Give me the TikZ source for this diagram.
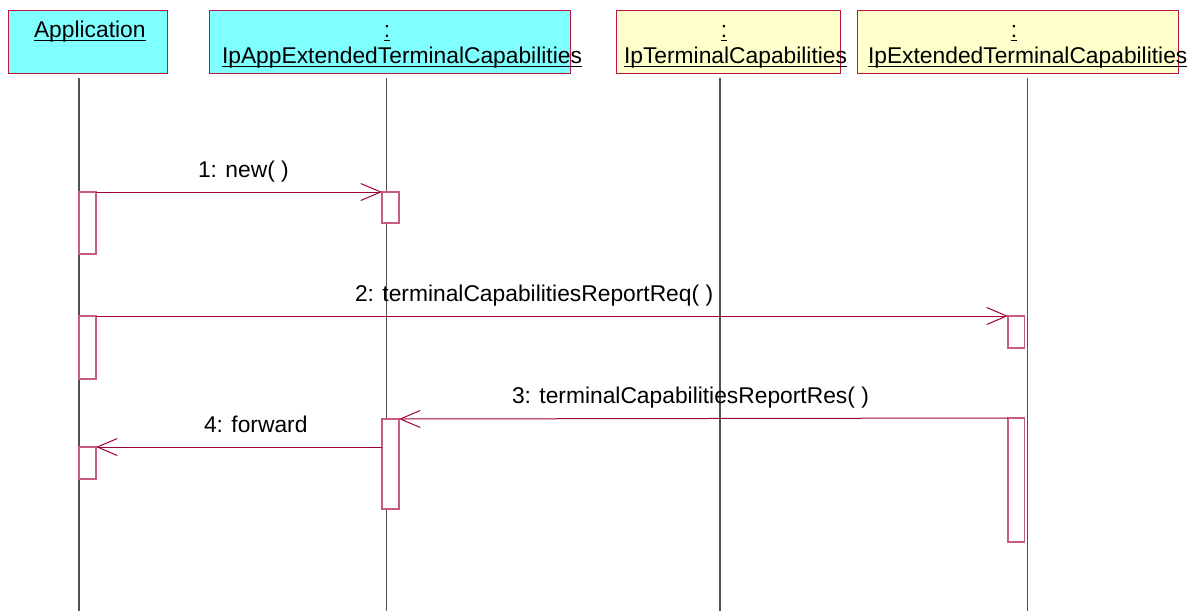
\documentclass[tikz,border=0pt]{standalone}
\usepackage{fontspec}
\setmainfont{Liberation Sans}
\usetikzlibrary{arrows.meta}
\definecolor{objcyan}{HTML}{80FFFF}
\definecolor{objyellow}{HTML}{FFFFCC}
\definecolor{objborder}{HTML}{B8183F}
\definecolor{actborder}{HTML}{C85C80}
\definecolor{msgcol}{HTML}{A0003C}
\definecolor{lifecol}{HTML}{505050}
\begin{document}
\begin{tikzpicture}[x=1pt,y=-1pt,
  font=\fontsize{22.8}{27}\selectfont,
  objbox/.style={draw=objborder, line width=1pt, rectangle, inner sep=0pt, outer sep=0pt, minimum height=63pt},
  actbox/.style={draw=actborder, fill=white, line width=1.5pt, rectangle, inner sep=0pt, outer sep=0pt, minimum width=17pt},
  lbl/.style={inner sep=0pt, outer sep=0pt, anchor=base west},
  ctr/.style={inner sep=0pt, outer sep=0pt, anchor=base},
  ul/.style={line width=1.6pt, black},
  life/.style={draw=lifecol, line width=1.2pt},
  msg/.style={draw=msgcol, line width=1pt, -{Straight Barb[length=20pt,width=17pt]}}]
\useasboundingbox (0,0) rectangle (1204,611);

% header boxes
\node[objbox, fill=objcyan, minimum width=159pt] (app) at (87.5,41.5) {};
\node[objbox, fill=objcyan, minimum width=361pt] (ipapp) at (389.5,41.5) {};
\node[objbox, fill=objyellow, minimum width=224pt] (ipterm) at (728,41.5) {};
\node[objbox, fill=objyellow, minimum width=321pt] (ipext) at (1017.5,41.5) {};

% header texts
\node[lbl] (appT) at (34,37) {Application};
\node[ctr] (ipappC) at (387,37) {:};
\node[lbl] (ipappT) at (222,63) {IpAppExtendedTerminalCapabilities};
\node[ctr] (iptermC) at (724,37) {:};
\node[lbl] (iptermT) at (624,63) {IpTerminalCapabilities};
\node[ctr] (ipextC) at (1014,37) {:};
\node[lbl] (ipextT) at (868,63) {IpExtendedTerminalCapabilities};
\foreach \n in {appT,ipappC,ipappT,iptermC,iptermT,ipextC,ipextT}
  \draw[ul] ([yshift=-3.6pt]\n.base west) -- ([yshift=-3.6pt]\n.base east);

% lifelines
\coordinate (appTop) at (79,78);    \coordinate (appBot) at (79,611);
\coordinate (ipappTop) at (386.5,78); \coordinate (ipappBot) at (386.5,611);
\coordinate (iptermTop) at (720,78); \coordinate (iptermBot) at (720,611);
\coordinate (ipextTop) at (1027.5,78); \coordinate (ipextBot) at (1027.5,611);
\draw[life] (appTop) -- (appBot);
\draw[life] (ipappTop) -- (ipappBot);
\draw[life] (iptermTop) -- (iptermBot);
\draw[life] (ipextTop) -- (ipextBot);

% activation boxes
\node[actbox, minimum height=62pt] (appA1) at (87.5,223) {};
\node[actbox, minimum height=63pt] (appA2) at (87.5,347.5) {};
\node[actbox, minimum height=32pt] (appA3) at (87.5,463) {};
\node[actbox, minimum height=31pt] (ipA1) at (390.5,207.5) {};
\node[actbox, minimum height=90pt] (ipA2) at (390.5,464) {};
\node[actbox, minimum width=16.5pt, minimum height=32pt] (extA1) at (1016.2,332) {};
\node[actbox, minimum width=16.5pt, minimum height=124pt] (extA2) at (1016.2,480) {};

% messages
\draw[msg] (appA1.north east) -- (ipA1.north west);
\draw[msg] (appA2.north east) -- (extA1.north west);
\draw[msg] (extA2.north west) -- (ipA2.north east);
\draw[msg] (ipA2.west |- appA3.north) -- (appA3.north east);

% message labels
\node[lbl] (m1) at (198,177) {1: new( )};
\node[lbl] (m2) at (355,301) {2: terminalCapabilitiesReportReq( )};
\node[lbl] (m3) at (512,403) {3: terminalCapabilitiesReportRes( )};
\node[lbl] (m4) at (204,432) {4: forward};
\end{tikzpicture}
\end{document}
